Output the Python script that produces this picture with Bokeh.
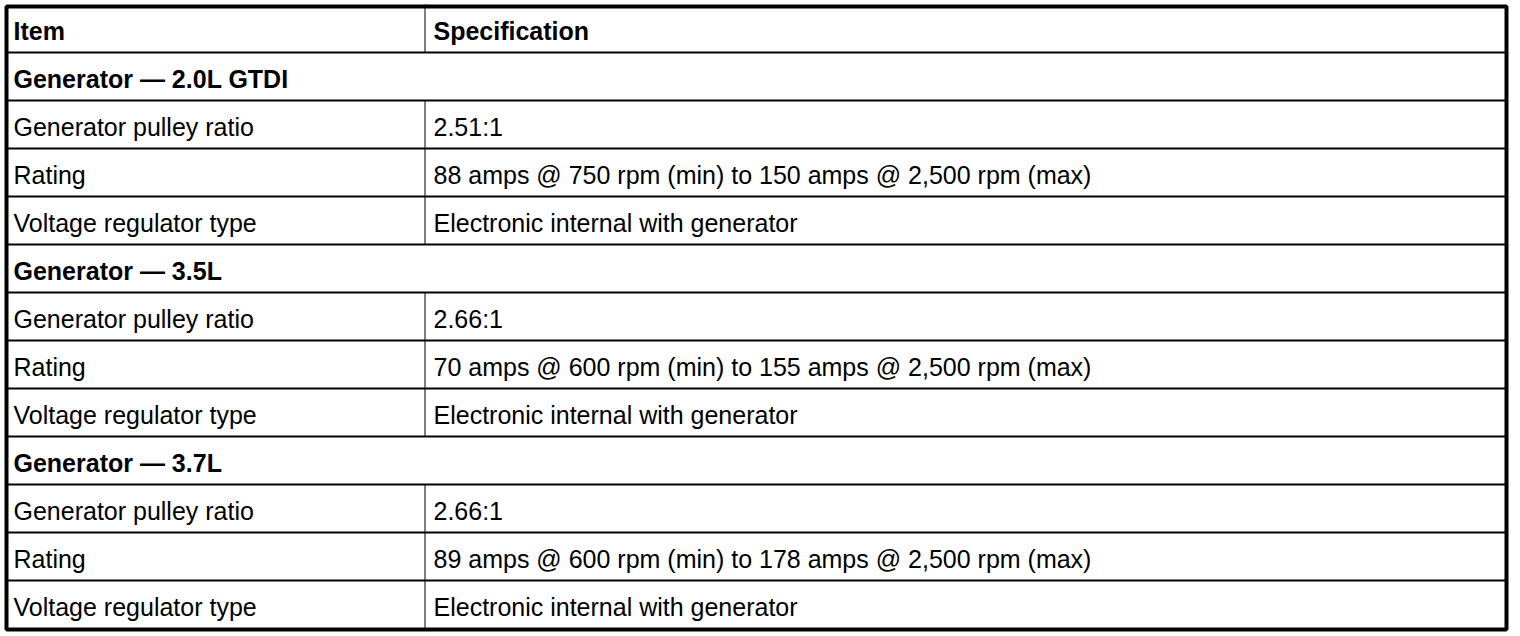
from bokeh.plotting import figure
from bokeh.models import Range1d, ColumnDataSource
from bokeh.core.properties import value
from bokeh.embed import file_html
from bokeh.resources import INLINE

# ---- data ----
header_item = "Item"
header_spec = "Specification"
group_names = ["Generator \u2014 2.0L GTDI", "Generator \u2014 3.5L", "Generator \u2014 3.7L"]
param_names = ["Generator pulley ratio", "Rating", "Voltage regulator type"]
pulley_ratios = ["2.51:1", "2.66:1", "2.66:1"]
ratings = [
    "88 amps @ 750 rpm (min) to 150 amps @ 2,500 rpm (max)",
    "70 amps @ 600 rpm (min) to 155 amps @ 2,500 rpm (max)",
    "89 amps @ 600 rpm (min) to 178 amps @ 2,500 rpm (max)",
]
regulator_types = ["Electronic internal with generator"] * 3

# ---- build rows ----
rows = [("header", header_item, header_spec)]
for g, pr, rt, vr in zip(group_names, pulley_ratios, ratings, regulator_types):
    rows.append(("group", g, ""))
    for name, spec in zip(param_names, [pr, rt, vr]):
        rows.append(("data", name, spec))

# ---- layout constants (page pixels) ----
W, H = 1516, 634
X0, Y0 = 0, 0            # figure origin on page
ROW_H = 48
TABLE_TOP = 4
LEFT, RIGHT = 6, 1506
TOP, BOTTOM = 6, 629
COL_X = 424.5
TEXT_X1, TEXT_X2 = 13, 433
BASE_OFFSET = 22
FONT = value("Liberation Sans")
FSIZE = "25px"

p = figure(width=W, height=H, output_backend="svg", toolbar_location=None,
           x_range=Range1d(X0, X0 + W), y_range=Range1d(Y0 + H, Y0),
           x_axis_location=None, y_axis_location=None, min_border=0,
           background_fill_color="white", border_fill_color="white")
p.grid.visible = False
p.outline_line_color = None

# horizontal separators
n = len(rows)
hy = [TABLE_TOP + ROW_H * (i + 1) for i in range(n - 1)]
p.segment(x0=[LEFT] * len(hy), x1=[RIGHT] * len(hy), y0=hy, y1=hy,
          line_color="black", line_width=2)

# vertical divider (not in group rows)
vx0, vy0, vy1 = [], [], []
for i, (kind, a, b) in enumerate(rows):
    if kind != "group":
        vx0.append(COL_X)
        vy0.append(TABLE_TOP + ROW_H * i)
        vy1.append(TABLE_TOP + ROW_H * (i + 1))
p.segment(x0=vx0, x1=vx0, y0=vy0, y1=vy1, line_color="black", line_width=1)

# outer border
p.quad(left=[LEFT], right=[RIGHT], top=[TOP], bottom=[BOTTOM],
       fill_color=None, line_color="black", line_width=4)

# text
for style in ("bold", "normal"):
    xs, ys, ts = [], [], []
    for i, (kind, a, b) in enumerate(rows):
        is_bold = kind in ("header", "group")
        if (style == "bold") != is_bold:
            continue
        base = TABLE_TOP + ROW_H * (i + 1) - BASE_OFFSET
        xs.append(TEXT_X1); ys.append(base); ts.append(a)
        if b:
            xs.append(TEXT_X2); ys.append(base); ts.append(b)
    src = ColumnDataSource(dict(x=xs, y=ys, t=ts))
    p.text(x="x", y="y", text="t", source=src, text_font=FONT,
           text_font_size=FSIZE, text_font_style=style, text_color="black",
           text_align="left", text_baseline="alphabetic")

open("out.html", "w").write(file_html(p, INLINE))
